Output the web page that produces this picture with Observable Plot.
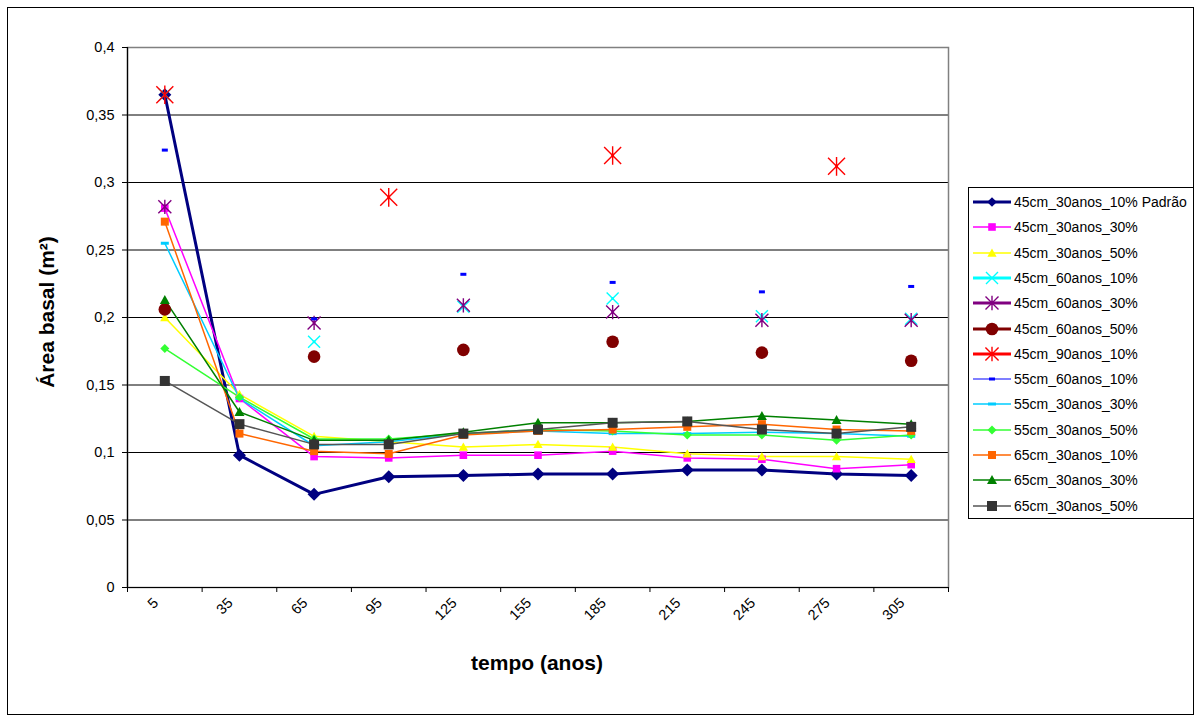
<!DOCTYPE html>
<html><head><meta charset="utf-8">
<script src="https://cdn.jsdelivr.net/npm/d3@7"></script>
<script src="https://cdn.jsdelivr.net/npm/@observablehq/plot@0.6"></script>
<style>
body{margin:0;background:#fff;font-family:"Liberation Sans",Arial,sans-serif;}
#wrap{position:relative;width:1200px;height:722px;overflow:hidden;background:#fff;}
#frame{position:absolute;left:7px;top:7px;width:1187px;height:708px;border:1px solid #000;box-sizing:border-box;}
#chart{position:absolute;left:0;top:0;}
.ytitle{position:absolute;left:47px;top:312px;transform:translate(-50%,-50%) rotate(-90deg);font-weight:bold;font-size:21px;white-space:nowrap;}
.xtitle{position:absolute;left:537px;top:663px;transform:translate(-50%,-50%);font-weight:bold;font-size:21px;white-space:nowrap;}
#legend{position:absolute;left:968px;top:187px;width:226px;height:332px;border:1px solid #000;box-sizing:border-box;background:#fff;}
.row{position:absolute;left:0;height:20px;display:flex;align-items:center;font-size:14px;white-space:nowrap;color:#000;}
.row svg{display:block;margin-left:3px;margin-right:2px;}
</style></head>
<body>
<div id="wrap">
  <div id="frame"></div>
  <div id="chart"></div>
  <div class="ytitle">Área basal (m²)</div>
  <div class="xtitle">tempo (anos)</div>
  <div id="legend"></div>
</div>
<script>
// ---------- data ----------
const tempo = [5, 35, 65, 95, 125, 155, 185, 215, 245, 275, 305];
const xBounds = [-10, 20, 50, 80, 110, 140, 170, 200, 230, 260, 290, 320];
const yTicks = [0, 0.05, 0.1, 0.15, 0.2, 0.25, 0.3, 0.35, 0.4];
const yTickLabels = ["0", "0,05", "0,1", "0,15", "0,2", "0,25", "0,3", "0,35", "0,4"];

const nomes = [
  "45cm_30anos_10% Padrão", "45cm_30anos_30%", "45cm_30anos_50%",
  "45cm_60anos_10%", "45cm_60anos_30%", "45cm_60anos_50%",
  "45cm_90anos_10%", "55cm_60anos_10%", "55cm_30anos_30%",
  "55cm_30anos_50%", "65cm_30anos_10%", "65cm_30anos_30%", "65cm_30anos_50%"
];

const s45_30_10 = [0.365, 0.098, 0.069, 0.082, 0.083, 0.084, 0.084, 0.087, 0.087, 0.084, 0.083];
const s45_30_30 = [0.281, 0.140, 0.097, 0.096, 0.098, 0.098, 0.101, 0.096, 0.095, 0.088, 0.091];
const s45_30_50 = [0.200, 0.143, 0.112, 0.108, 0.104, 0.106, 0.104, 0.099, 0.097, 0.097, 0.095];
const s45_60_10 = [0.365, null, 0.182, null, 0.208, null, 0.214, null, 0.201, null, 0.199];
const s45_60_30 = [0.282, null, 0.196, null, 0.209, null, 0.204, null, 0.198, null, 0.198];
const s45_60_50 = [0.206, null, 0.171, null, 0.176, null, 0.182, null, 0.174, null, 0.168];
const s45_90_10 = [0.365, null, null, 0.289, null, null, 0.320, null, null, 0.312, null];
const s55_60_10 = [0.324, null, 0.199, null, 0.232, null, 0.226, null, 0.219, null, 0.223];
const s55_30_30 = [0.255, 0.140, 0.105, 0.108, 0.114, 0.116, 0.114, 0.114, 0.115, 0.114, 0.112];
const s55_30_50 = [0.177, 0.141, 0.110, 0.110, 0.114, 0.117, 0.116, 0.113, 0.113, 0.109, 0.113];
const s65_30_10 = [0.271, 0.114, 0.101, 0.099, 0.113, 0.116, 0.117, 0.119, 0.121, 0.117, 0.116];
const s65_30_30 = [0.213, 0.130, 0.109, 0.109, 0.115, 0.122, 0.122, 0.123, 0.127, 0.124, 0.121];
const s65_30_50 = [0.153, 0.121, 0.106, 0.106, 0.114, 0.117, 0.122, 0.123, 0.117, 0.114, 0.119];

const valores = [s45_30_10, s45_30_30, s45_30_50, s45_60_10, s45_60_30, s45_60_50,
  s45_90_10, s55_60_10, s55_30_30, s55_30_50, s65_30_10, s65_30_30, s65_30_50];

// ---------- styles ----------
function sym(fn) { return {draw(ctx, size) { fn(ctx, Math.sqrt(size / Math.PI)); }}; }
const SYM = {
  square: sym((c, r) => { c.rect(-r, -r, 2 * r, 2 * r); }),
  diamond: sym((c, r) => { c.moveTo(0, -r); c.lineTo(r, 0); c.lineTo(0, r); c.lineTo(-r, 0); c.closePath(); }),
  triangle: sym((c, r) => { c.moveTo(0, -r); c.lineTo(r, r * 0.8); c.lineTo(-r, r * 0.8); c.closePath(); }),
  circle: sym((c, r) => { c.moveTo(r, 0); c.arc(0, 0, r, 0, 2 * Math.PI); }),
  times: sym((c, r) => { c.moveTo(-r, -r); c.lineTo(r, r); c.moveTo(r, -r); c.lineTo(-r, r); }),
  star: sym((c, r) => { c.moveTo(-r, -r); c.lineTo(r, r); c.moveTo(r, -r); c.lineTo(-r, r); c.moveTo(0, -r * 1.1); c.lineTo(0, r * 1.1); }),
  dash: sym((c, r) => { c.rect(-r, -1.5, 2 * r, 3); })
};
const cores = ["#000080", "#FF00FF", "#FFFF00", "#00FFFF", "#800080", "#800000", "#FF0000",
  "#0000FF", "#00CCFF", "#33FF33", "#FF6600", "#008000", "#333333"];
const coresLinha = ["#000080", "#FF00FF", "#FFFF00", "#00FFFF", "#800080", "#800000", "#FF0000",
  "#0000FF", "#00CCFF", "#33FF33", "#FF6600", "#008000", "#555555"];
const simbolos = ["diamond", "square", "triangle", "times", "star", "circle", "star",
  "dash", "dash", "diamond", "square", "triangle", "square"];
const raios = [6.5, 3.8, 4.6, 6, 6.5, 6.3, 8.5, 3, 4, 4.5, 4, 5, 5];
const espessuras = [3, 1.5, 1.5, 3, 3, 3, 3, 1.2, 1.5, 1.5, 1.5, 1.5, 1.5];
const traco = new Set(["times", "star"]);

// ---------- table ----------
const linhas = nomes.flatMap((n, k) => tempo.map((t, i) => ({serie: n, tempo: t, valor: valores[k][i]})));

const lineMarks = nomes.map((n, k) => Plot.line(linhas.filter(d => d.serie === n), {
  x: "tempo", y: "valor", stroke: coresLinha[k], strokeWidth: espessuras[k]
}));
const dotMarks = nomes.map((n, k) => {
  const s = simbolos[k];
  const opts = {x: "tempo", y: "valor", symbol: SYM[s], r: raios[k]};
  if (traco.has(s)) { opts.stroke = cores[k]; opts.fill = "none"; opts.strokeWidth = 1.4; }
  else { opts.fill = cores[k]; opts.stroke = "none"; }
  return Plot.dot(linhas.filter(d => d.serie === n && d.valor != null), opts);
});

const chart = Plot.plot({
  width: 1200, height: 722,
  marginLeft: 127, marginRight: 252, marginTop: 47, marginBottom: 135,
  style: {fontFamily: "'Liberation Sans', Arial, sans-serif", fontSize: "14.5px", background: "transparent", color: "#000", overflow: "visible"},
  x: {type: "linear", domain: [-10, 320]},
  y: {type: "linear", domain: [0, 0.4]},
  marks: [
    Plot.ruleY(yTicks.slice(1, -1), {stroke: "#000", strokeWidth: 1}),
    Plot.frame({stroke: "#808080", strokeWidth: 1.5}),
    Plot.ruleY([0], {stroke: "#000", strokeWidth: 1.2}),
    Plot.ruleX([xBounds[0]], {stroke: "#000", strokeWidth: 1.2}),
    Plot.axisY(yTicks, {anchor: "left", tickSize: 5, tickPadding: 8, label: null, fontSize: 14.5,
      tickFormat: d => yTickLabels[yTicks.indexOf(d)]}),
    Plot.axisX(xBounds, {anchor: "bottom", tickSize: 5, tickFormat: () => "", label: null}),
    Plot.text(tempo, {x: d => d, frameAnchor: "bottom", dy: 13, dx: -9, rotate: -45,
      textAnchor: "end", lineAnchor: "middle", fontSize: 14.5, fill: "#000"}),
    ...lineMarks,
    ...dotMarks
  ]
});
document.getElementById("chart").appendChild(chart);

// ---------- legend ----------
const leg = document.getElementById("legend");
nomes.forEach((n, k) => {
  const row = document.createElement("div");
  row.className = "row";
  row.style.top = (14 - 10 + k * 25.3) + "px";
  const s = simbolos[k];
  const d = d3.symbol(SYM[s], Math.PI * raios[k] * raios[k] * (k === 6 ? 0.6 : k === 0 ? 0.55 : 1))();
  const mk = traco.has(s)
    ? `<path d="${d}" transform="translate(20,10)" fill="none" stroke="${cores[k]}" stroke-width="1.4"/>`
    : `<path d="${d}" transform="translate(20,10)" fill="${cores[k]}"/>`;
  row.innerHTML = `<svg width="40" height="20"><line x1="1" x2="39" y1="10" y2="10" stroke="${coresLinha[k]}" stroke-width="${espessuras[k]}"/>${mk}</svg><span>${n}</span>`;
  leg.appendChild(row);
});
</script>
</body></html>
